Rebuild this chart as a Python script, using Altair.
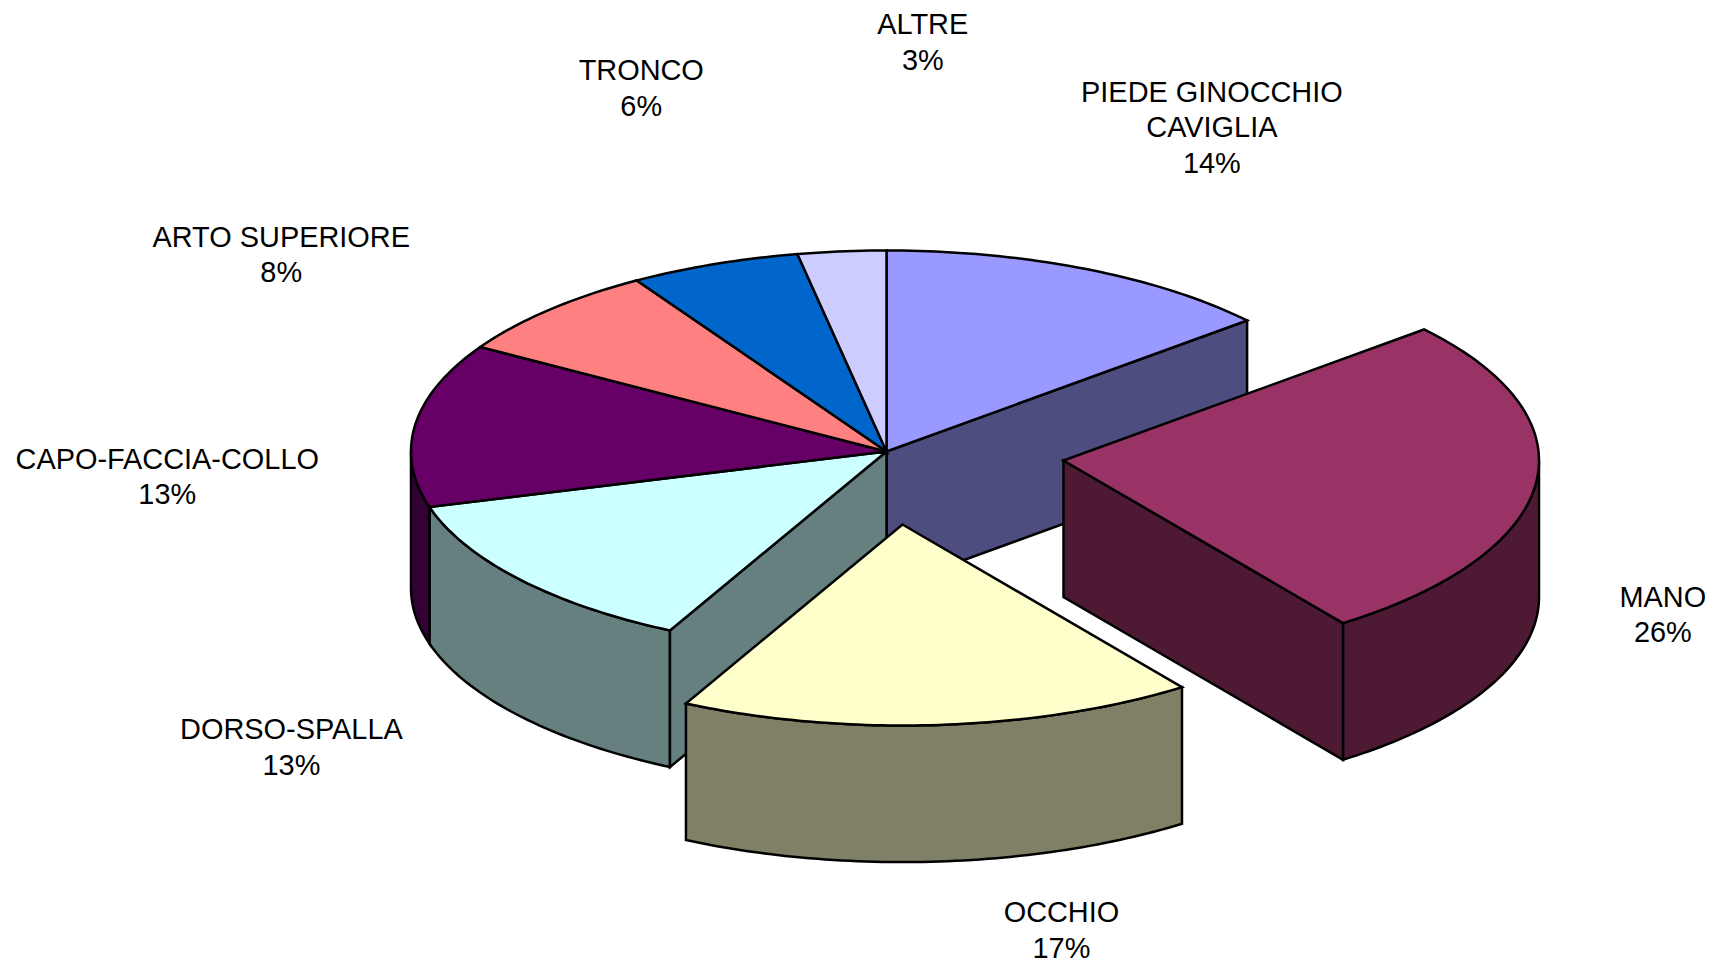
import math
import altair as alt

CATEGORIES = ["PIEDE GINOCCHIO\nCAVIGLIA", "MANO", "OCCHIO", "DORSO-SPALLA",
              "CAPO-FACCIA-COLLO", "ARTO SUPERIORE", "TRONCO", "ALTRE"]
VALUES = [13.7, 26.3, 17.525, 13.025, 13.15, 7.5, 5.8, 3.0]
PERCENT_LABELS = [14, 26, 17, 13, 13, 8, 6, 3]
TOP_COLORS = ["#9999FF", "#993366", "#FFFFCC", "#CCFFFF", "#660066", "#FF8080", "#0066CC", "#CCCCFF"]
SIDE_COLORS = ["#4D4D80", "#4D1933", "#808066", "#668080", "#330033", "#804040", "#003366", "#666680"]

# Layout of the pie
CX, CY = 878.5, 443.5
RX, RY = 475.5, 201.0
DEPTH = 136.6
EXPLODE_X = [0, 177, 16, 0, 0, 0, 0, 0]
EXPLODE_Y = [0, 9, 73, 0, 0, 0, 0, 0]
LABEL_DX = [127, 127, 122, -228, -248, -268, -73, 81]
LABEL_DY = [-140.5, 131.5, 206, 168.5, 53, -54.5, -175, -208.5]
LINE_HEIGHT = 35.5

n = len(VALUES)
total = sum(VALUES)
starts, ends = [], []
acc = 0.0
for v in VALUES:
    starts.append(acc / total * 360)
    acc += v
    ends.append(acc / total * 360)


def rim(i, deg, dz=0.0):
    t = math.radians(deg)
    return [CX + EXPLODE_X[i] + RX * math.sin(t), CY + EXPLODE_Y[i] - RY * math.cos(t) + dz]


def apex(i, dz=0.0):
    return [CX + EXPLODE_X[i], CY + EXPLODE_Y[i] + dz]


def arc(i, a, b, dz=0.0):
    steps = max(2, int(abs(b - a)) + 1)
    return [rim(i, a + (b - a) * k / steps, dz) for k in range(steps + 1)]


def feature(ring, color):
    ring = ring + [ring[0]]
    return {"type": "Feature", "properties": {"fill": color},
            "geometry": {"type": "Polygon", "coordinates": [ring]}}


def group_features(members):
    out = []
    # outer walls, front half only
    for i in members:
        a, b = max(starts[i], 90), min(ends[i], 270)
        if a < b:
            out.append(feature(arc(i, a, b) + arc(i, b, a, DEPTH), SIDE_COLORS[i]))
    # exposed radial faces
    for i in members:
        nxt, prv = (i + 1) % n, (i - 1) % n
        if EXPLODE_X[nxt] != EXPLODE_X[i] and math.sin(math.radians(ends[i])) > 0:
            out.append(feature([apex(i), rim(i, ends[i]), rim(i, ends[i], DEPTH), apex(i, DEPTH)], SIDE_COLORS[i]))
        if EXPLODE_X[prv] != EXPLODE_X[i] and math.sin(math.radians(starts[i])) < 0:
            out.append(feature([apex(i), rim(i, starts[i]), rim(i, starts[i], DEPTH), apex(i, DEPTH)], SIDE_COLORS[i]))
    # top faces
    for i in members:
        out.append(feature([apex(i)] + arc(i, starts[i], ends[i]), TOP_COLORS[i]))
    return out


features = group_features([i for i in range(n) if EXPLODE_X[i] == 0])
for i in range(n):
    if EXPLODE_X[i] != 0:
        features += group_features([i])

label_rows = []
for i in range(n):
    p = rim(i, (starts[i] + ends[i]) / 2)
    text = f"{CATEGORIES[i]}\n{PERCENT_LABELS[i]}%"
    n_lines = text.count("\n") + 1
    label_rows.append({"lon": p[0] + LABEL_DX[i],
                       "lat": p[1] + LABEL_DY[i] - (n_lines - 1) * LINE_HEIGHT / 2,
                       "text": text})

projection = alt.Projection(type="identity", scale=1, translate=[0, 0]).to_dict()

pie = alt.Chart(alt.Data(values=features)).mark_geoshape(
    stroke="black", strokeWidth=2.5, strokeJoin="miter"
).encode(fill=alt.Fill("properties.fill:N", scale=None)).project(**projection)

labels = alt.Chart(alt.Data(values=label_rows)).mark_text(
    font="Liberation Sans", fontSize=28.9, lineHeight=LINE_HEIGHT, lineBreak="\n",
    align="center", baseline="middle", color="black"
).encode(longitude="lon:Q", latitude="lat:Q", text="text:N").project(**projection)

chart = alt.layer(pie, labels).properties(
    width=1697, height=955, padding=0,
    autosize=alt.AutoSizeParams(type="none"), background="white"
).configure_view(stroke=None)

chart.save("out.html", embed_options={"renderer": "svg", "actions": False})
